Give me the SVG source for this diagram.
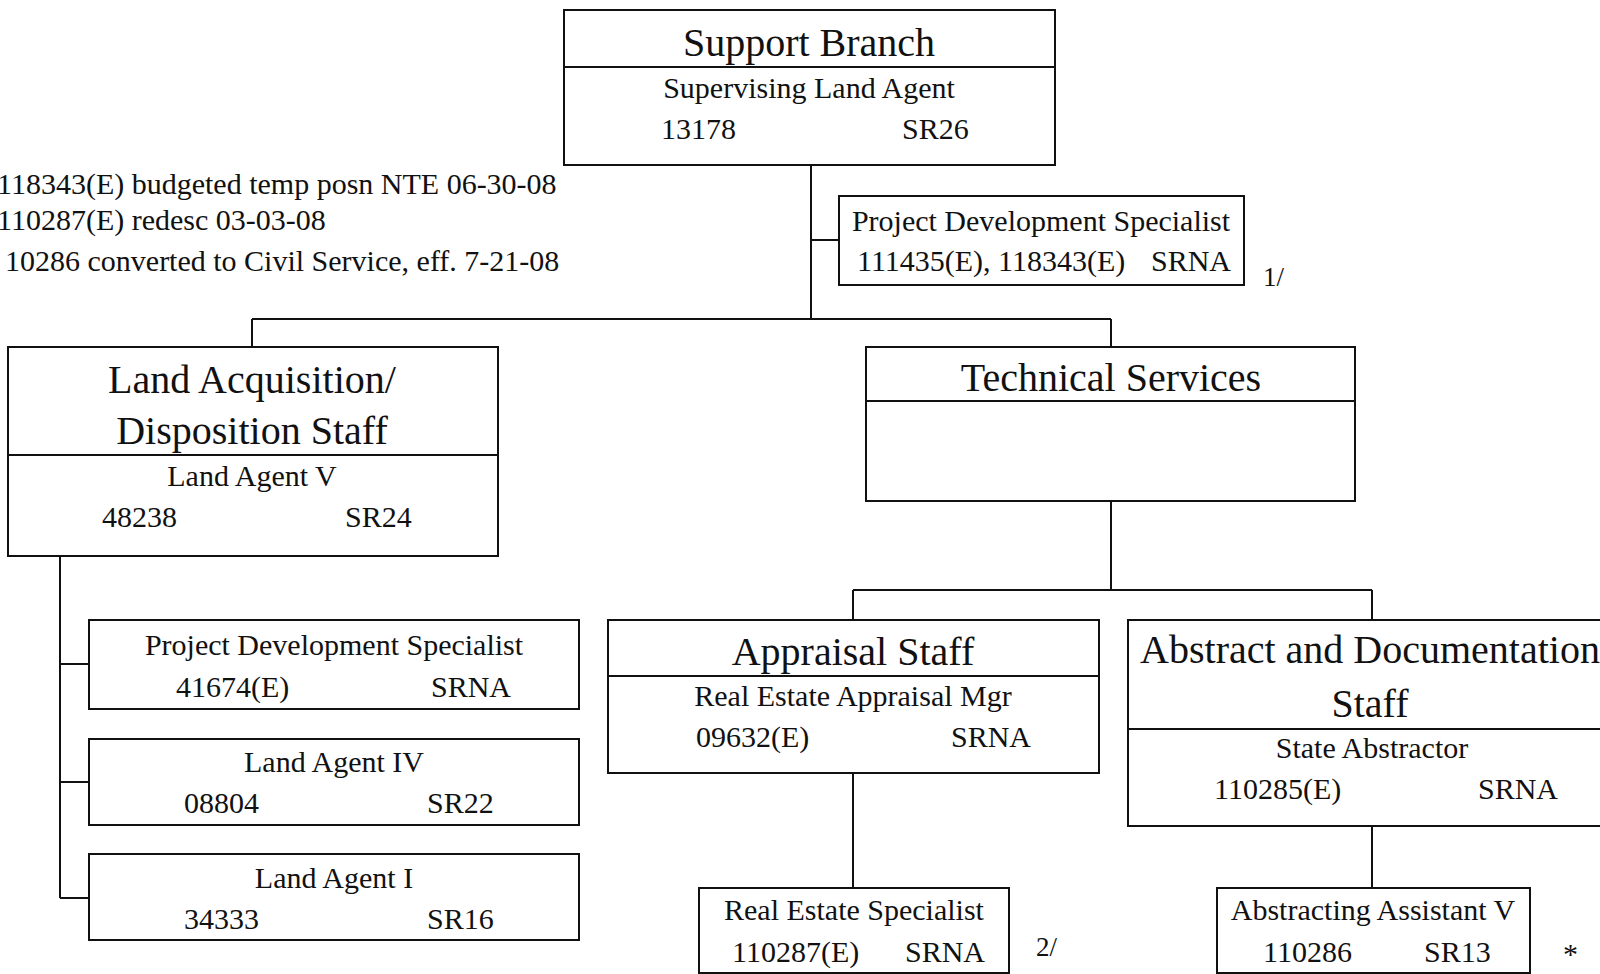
<svg xmlns="http://www.w3.org/2000/svg" width="1600" height="974" viewBox="0 0 1600 974">
<style>
  .box { fill: #ffffff; stroke: #111111; stroke-width: 2; }
  .div { stroke: #111111; stroke-width: 2; }
  .conn { fill: none; stroke: #111111; stroke-width: 2; }
  text { font-family: "Liberation Serif", "Times New Roman", serif; fill: #111111; }
  .title { font-size: 40px; text-anchor: middle; }
  .body { font-size: 30px; }
  .mid { text-anchor: middle; }
  .note { font-size: 30px; }
  .foot { font-size: 27px; }
</style>
<rect width="1600" height="974" fill="#ffffff"/>

<g id="connectors">
  <path class="conn" d="M811,165 V319 M252,319 H1111 M252,319 V347 M1111,319 V347 M811,240 H839"/>
  <path class="conn" d="M1111,501 V590 M853,590 H1372 M853,590 V620 M1372,590 V620"/>
  <path class="conn" d="M60,556 V898 M60,664 H89 M60,782 H89 M60,898 H89"/>
  <path class="conn" d="M853,773 V888 M1372,826 V888"/>
</g>

<g id="notes">
  <text class="note" x="-3" y="194">118343(E) budgeted temp posn NTE 06-30-08</text>
  <text class="note" x="-3" y="230">110287(E) redesc 03-03-08</text>
  <text class="note" x="5" y="271">10286 converted to Civil Service, eff. 7-21-08</text>
</g>

<g id="support-branch">
  <rect class="box" x="564" y="10" width="491" height="155"/>
  <line class="div" x1="564" y1="67" x2="1055" y2="67"/>
  <text class="title" x="809" y="56">Support Branch</text>
  <text class="body mid" x="809" y="98">Supervising Land Agent</text>
  <text class="body" x="661" y="139">13178</text>
  <text class="body" x="902" y="139">SR26</text>
</g>

<g id="pds-top">
  <rect class="box" x="839" y="196" width="405" height="89"/>
  <text class="body mid" x="1041" y="231">Project Development Specialist</text>
  <text class="body" x="857" y="271">111435(E), 118343(E)</text>
  <text class="body" x="1151" y="271">SRNA</text>
  <text class="foot" x="1263" y="286">1/</text>
</g>

<g id="land-acquisition">
  <rect class="box" x="8" y="347" width="490" height="209"/>
  <line class="div" x1="8" y1="455" x2="498" y2="455"/>
  <text class="title" x="252" y="393">Land Acquisition/</text>
  <text class="title" x="252" y="444">Disposition Staff</text>
  <text class="body mid" x="252" y="486">Land Agent V</text>
  <text class="body" x="102" y="527">48238</text>
  <text class="body" x="345" y="527">SR24</text>
</g>

<g id="technical-services">
  <rect class="box" x="866" y="347" width="489" height="154"/>
  <line class="div" x1="866" y1="401" x2="1355" y2="401"/>
  <text class="title" x="1111" y="391">Technical Services</text>
</g>

<g id="pds-left">
  <rect class="box" x="89" y="620" width="490" height="89"/>
  <text class="body mid" x="334" y="655">Project Development Specialist</text>
  <text class="body" x="176" y="697">41674(E)</text>
  <text class="body" x="431" y="697">SRNA</text>
</g>

<g id="land-agent-iv">
  <rect class="box" x="89" y="739" width="490" height="86"/>
  <text class="body mid" x="334" y="772">Land Agent IV</text>
  <text class="body" x="184" y="813">08804</text>
  <text class="body" x="427" y="813">SR22</text>
</g>

<g id="land-agent-i">
  <rect class="box" x="89" y="854" width="490" height="86"/>
  <text class="body mid" x="334" y="888">Land Agent I</text>
  <text class="body" x="184" y="929">34333</text>
  <text class="body" x="427" y="929">SR16</text>
</g>

<g id="appraisal-staff">
  <rect class="box" x="608" y="620" width="491" height="153"/>
  <line class="div" x1="608" y1="676" x2="1099" y2="676"/>
  <text class="title" x="853" y="665">Appraisal Staff</text>
  <text class="body mid" x="853" y="706">Real Estate Appraisal Mgr</text>
  <text class="body" x="696" y="747">09632(E)</text>
  <text class="body" x="951" y="747">SRNA</text>
</g>

<g id="abstract-documentation">
  <rect class="box" x="1128" y="620" width="490" height="206"/>
  <line class="div" x1="1128" y1="729" x2="1618" y2="729"/>
  <text class="title" x="1370" y="663">Abstract and Documentation</text>
  <text class="title" x="1370" y="717">Staff</text>
  <text class="body mid" x="1372" y="758">State Abstractor</text>
  <text class="body" x="1214" y="799">110285(E)</text>
  <text class="body" x="1478" y="799">SRNA</text>
</g>

<g id="real-estate-specialist">
  <rect class="box" x="699" y="888" width="310" height="85"/>
  <text class="body mid" x="854" y="920">Real Estate Specialist</text>
  <text class="body" x="732" y="962">110287(E)</text>
  <text class="body" x="905" y="962">SRNA</text>
  <text class="foot" x="1036" y="956">2/</text>
</g>

<g id="abstracting-assistant">
  <rect class="box" x="1217" y="888" width="313" height="85"/>
  <text class="body mid" x="1373" y="920">Abstracting Assistant V</text>
  <text class="body" x="1263" y="962">110286</text>
  <text class="body" x="1424" y="962">SR13</text>
  <text class="body" x="1563" y="964">*</text>
</g>
</svg>
